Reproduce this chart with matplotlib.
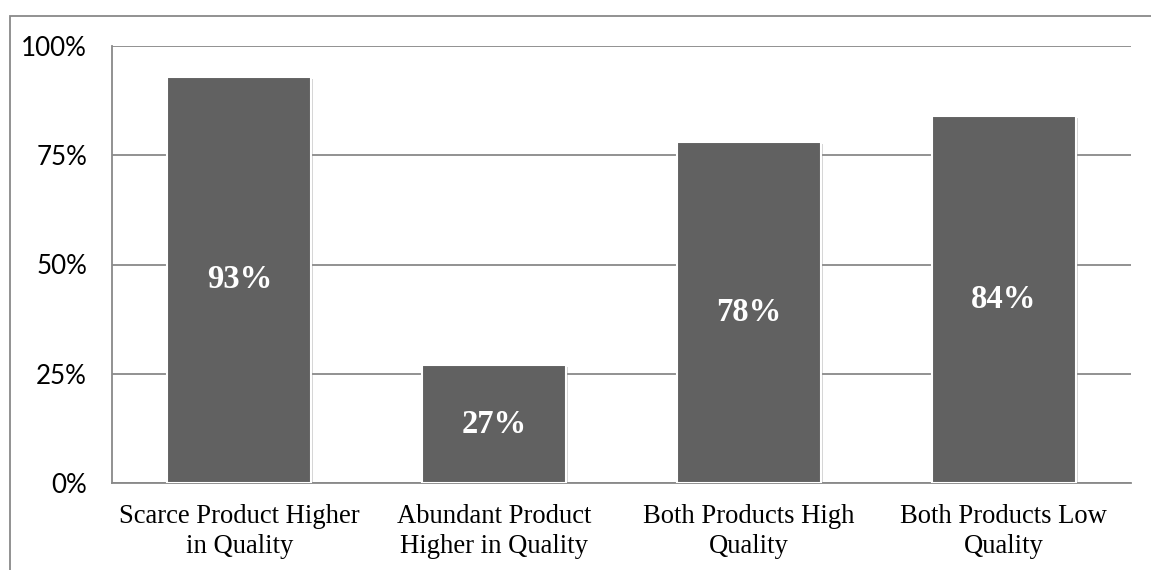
import numpy as np
import matplotlib.pyplot as plt
import matplotlib.patches as mpatches
import matplotlib.patheffects as pe
from matplotlib.ticker import FuncFormatter

categories = ['Scarce Product Higher\nin Quality', 'Abundant Product\nHigher in Quality',
              'Both Products High\nQuality', 'Both Products Low\nQuality']
shares = [93, 27, 78, 84]
yticks = [0, 25, 50, 75, 100]

BAR = '#616161'
LINE = '#898989'


def main():
    fig = plt.figure(figsize=(11.51, 5.70), dpi=100)
    W, H = 1151, 570
    ax = fig.add_axes([112 / W, (H - 483) / H, 1019 / W, 437 / H])

    # outer chart frame, runs off the right and bottom edges
    frame = mpatches.Rectangle((10 / W, -0.1), 1.2, (H - 16) / H + 0.1,
                               transform=fig.transFigure, fill=False,
                               edgecolor=LINE, linewidth=1.3, clip_on=False)
    fig.patches.append(frame)

    x = np.arange(len(categories))
    bars = ax.bar(x, shares, width=0.565, color=BAR, edgecolor='white',
                  linewidth=1.5, zorder=3)
    for b in bars:
        b.set_path_effects([pe.SimplePatchShadow(offset=(1.5, -1.5),
                                                 shadow_rgbFace='#888888', alpha=0.35),
                            pe.Normal()])

    for xi, v in zip(x, shares):
        ax.text(xi, v / 2, f'{v}%', ha='center', va='center', color='white',
                fontsize=23.5, fontweight='bold', family='Liberation Serif', zorder=4)

    ax.set_xlim(-0.5, len(categories) - 0.5)
    ax.set_ylim(0, 100)
    ax.set_yticks(yticks)
    ax.yaxis.set_major_formatter(FuncFormatter(lambda v, p: f'{v:.0f}%'))
    ax.set_xticks(x)
    ax.set_xticklabels(categories, family='Liberation Serif', fontsize=19.2,
                       linespacing=1.27)
    for lab in ax.get_yticklabels():
        lab.set_family('Lato')
        lab.set_fontsize(18.7)

    ax.tick_params(axis='both', length=0)
    ax.tick_params(axis='y', pad=18)
    ax.tick_params(axis='x', pad=15)
    ax.yaxis.grid(True, color=LINE, linewidth=1.3, zorder=0)
    ax.set_axisbelow(True)
    for s in ['top', 'right']:
        ax.spines[s].set_visible(False)
    for s in ['left', 'bottom']:
        ax.spines[s].set_color(LINE)
        ax.spines[s].set_linewidth(1.3)

    fig.savefig('out.png', dpi=100)


if __name__ == '__main__':
    main()
